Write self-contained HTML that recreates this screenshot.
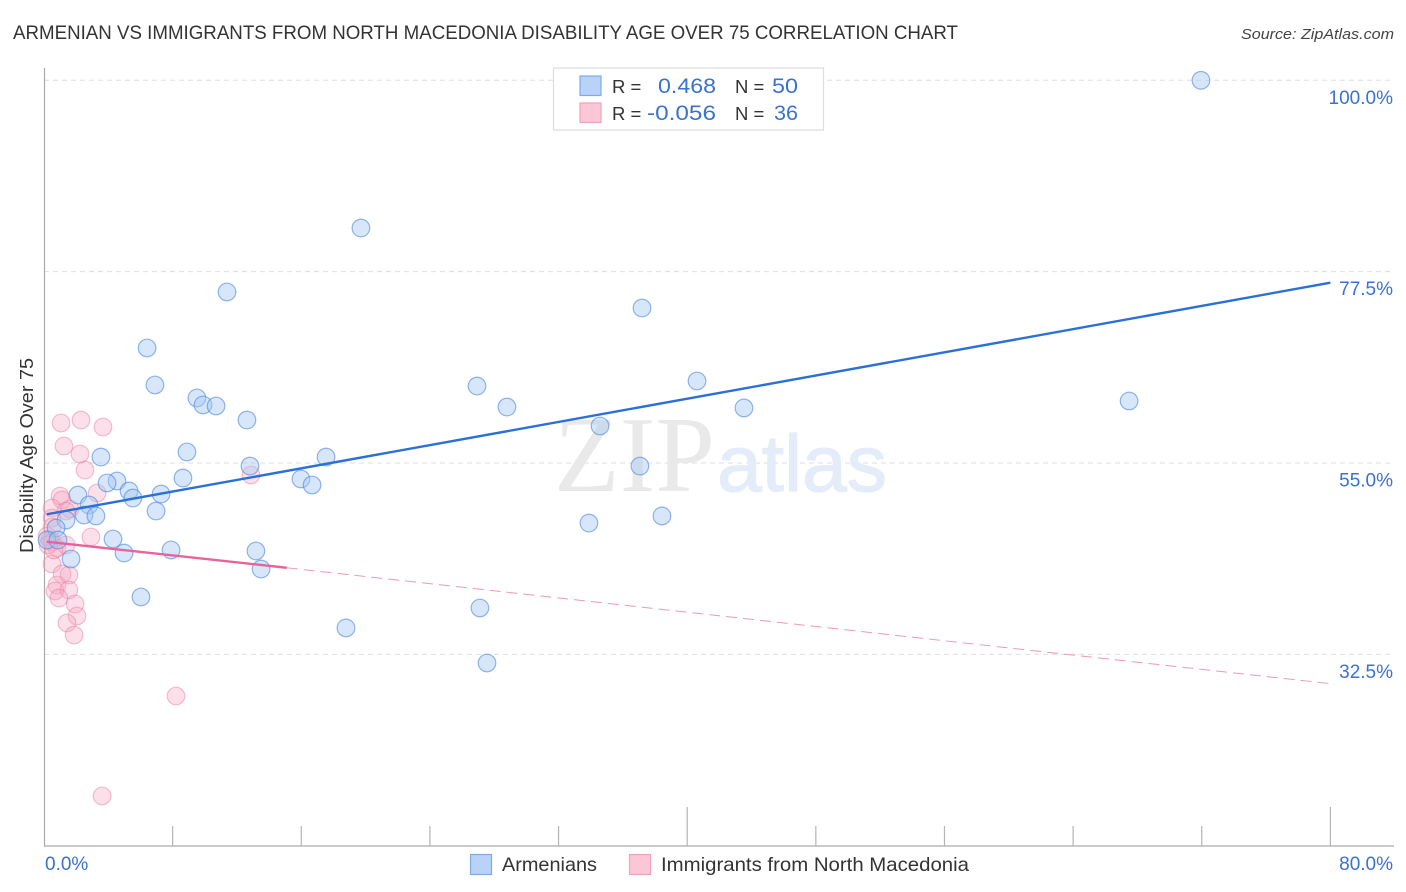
<!DOCTYPE html>
<html lang="en">
<head>
<meta charset="utf-8">
<title>Armenian vs Immigrants from North Macedonia Disability Age Over 75 Correlation Chart</title>
<style>
html,body{margin:0;padding:0;background:#fff;width:1406px;height:892px;overflow:hidden}
svg{display:block;font-family:"Liberation Sans",sans-serif}
</style>
</head>
<body>
<svg id="chart" xmlns="http://www.w3.org/2000/svg" width="1406" height="892" viewBox="0 0 1406 892">
  <text x="13" y="39" font-size="19" fill="#333" textLength="945" lengthAdjust="spacingAndGlyphs">ARMENIAN VS IMMIGRANTS FROM NORTH MACEDONIA DISABILITY AGE OVER 75 CORRELATION CHART</text>
  <text x="1241" y="39" font-size="15" font-style="italic" fill="#444" textLength="153" lengthAdjust="spacingAndGlyphs">Source: ZipAtlas.com</text>

  <g id="grid"></g>

  <g>
    <text x="554" y="491" font-family="'Liberation Serif',serif" font-size="108" fill="#e9e9e9" textLength="161" lengthAdjust="spacingAndGlyphs">ZIP</text>
    <text x="717" y="491" font-size="80" fill="#e4ecf9" stroke="#e4ecf9" stroke-width="1.2" textLength="170" lengthAdjust="spacingAndGlyphs">atlas</text>
  </g>

  <g id="axes">
    <line x1="44.5" y1="68" x2="44.5" y2="846" stroke="#aaa" stroke-width="1.2"/>
    <line x1="44" y1="846" x2="1394" y2="846" stroke="#aaa" stroke-width="1.2"/>
  </g>
  <g id="ticks"></g>
  <g id="pink-points"></g>
  <g id="blue-points"></g>
  <g id="trends"></g>
  <g id="labels"></g>

  <text transform="translate(33,553) rotate(-90)" font-size="18" fill="#333" textLength="195" lengthAdjust="spacingAndGlyphs">Disability Age Over 75</text>

  <g>
    <rect x="553.5" y="68" width="270" height="62" fill="#fff" stroke="#ddd" stroke-width="1.2"/>
    <rect x="580" y="76" width="21" height="19.5" fill="#b8d3f7" stroke="#7eaae8" stroke-width="1.2"/>
    <rect x="580" y="103" width="21" height="19.5" fill="#fcc6d6" stroke="#f0a3bb" stroke-width="1.2"/>
    <text x="612" y="93" font-size="18.5" fill="#333">R =</text>
    <text x="716" y="93" font-size="21" fill="#3a72d0" text-anchor="end" textLength="58" lengthAdjust="spacingAndGlyphs">0.468</text>
    <text x="735" y="93" font-size="18.5" fill="#333">N =</text>
    <text x="798" y="93" font-size="21" fill="#3a72d0" text-anchor="end" textLength="26" lengthAdjust="spacingAndGlyphs">50</text>
    <text x="612" y="120" font-size="18.5" fill="#333">R =</text>
    <text x="716" y="120" font-size="21" fill="#3a72d0" text-anchor="end" textLength="69" lengthAdjust="spacingAndGlyphs">-0.056</text>
    <text x="735" y="120" font-size="18.5" fill="#333">N =</text>
    <text x="798" y="120" font-size="21" fill="#3a72d0" text-anchor="end" textLength="24" lengthAdjust="spacingAndGlyphs">36</text>
  </g>

  <g>
    <rect x="470.5" y="854.5" width="21" height="20" fill="#b8d3f7" stroke="#7eaae8" stroke-width="1.2"/>
    <text x="502" y="871" font-size="19.5" fill="#333" textLength="95" lengthAdjust="spacingAndGlyphs">Armenians</text>
    <rect x="629.5" y="854.5" width="21" height="20" fill="#fcc6d6" stroke="#f0a3bb" stroke-width="1.2"/>
    <text x="661" y="871" font-size="19.5" fill="#333" textLength="308" lengthAdjust="spacingAndGlyphs">Immigrants from North Macedonia</text>
  </g>
</svg>
<script>
const yTicks = [100, 77.5, 55, 32.5];
const yTickLabels = ["100.0%", "77.5%", "55.0%", "32.5%"];
const xTicks = [8, 16, 24, 32, 40, 48, 56, 64, 72, 80];
const xMajorTicks = [40, 80];
const xTickLabels = ["0.0%", "80.0%"];

const armenianX = [71.95,19.71,11.38,37.19,6.41,6.90,26.93,40.61,9.51,9.89,10.70,28.79,43.53,67.48,12.62,34.58,8.89,3.54,17.54,4.54,3.92,8.64,12.81,37.06,15.98,16.67,5.29,2.11,5.53,7.28,6.97,2.80,2.49,3.23,38.43,1.37,0.75,33.89,0.19,0.87,4.29,4.98,7.90,13.18,1.68,13.50,6.03,27.11,18.78,27.55];
const armenianY = [100.0,82.63,75.11,73.22,68.52,64.17,64.05,64.64,62.64,61.82,61.70,61.58,61.47,62.29,60.05,59.35,56.29,55.70,55.70,52.88,52.65,53.23,54.64,54.64,53.12,52.41,51.71,51.23,50.88,51.35,49.35,50.06,48.88,48.77,48.77,48.29,47.35,47.94,45.94,45.94,46.06,44.41,44.77,44.65,43.71,42.53,39.24,37.95,35.60,31.48];

const macedoniaX = [1.06,2.30,3.67,1.24,2.24,2.55,12.87,3.30,1.00,1.12,0.50,1.62,1.37,0.50,0.50,2.92,0.19,0.37,0.50,0.81,1.37,0.50,1.12,1.55,0.81,0.68,1.55,0.93,1.93,2.05,1.43,1.87,8.21,3.61,0.25,0.62];
const macedoniaY = [59.70,60.05,59.23,57.00,56.06,54.17,53.59,51.47,51.12,50.65,49.71,49.59,49.35,48.53,47.47,46.30,46.41,45.94,45.71,45.00,45.36,43.12,41.95,41.83,40.65,39.95,40.06,39.12,38.42,37.01,36.18,34.77,27.60,15.84,45.36,44.77];

const armenianTrendX = [0.17, 80];
const armenianTrendY = [48.97, 76.2];
const macedoniaTrendX = [0.17, 15.1, 80];
const macedoniaTrendY = [45.74, 42.68, 29.05];

const NS = "http://www.w3.org/2000/svg";
function xScale(v) { return 44 + v * 16.08; }
function yScale(v) { return 80.3 + (100 - v) * 8.504; }
function make(tag, attrs, parent) {
  const el = document.createElementNS(NS, tag);
  for (const k in attrs) el.setAttribute(k, attrs[k]);
  document.getElementById(parent).appendChild(el);
  return el;
}

yTicks.forEach(function (t, i) {
  const line = make("line", {x1: 44, x2: 1394, y1: yScale(t), y2: yScale(t), stroke: "#dedede", "stroke-width": 1, "stroke-dasharray": "5 4"}, "grid");
  
  
  const label = make("text", {x: 1393, y: yScale(t) + 23.5, "font-size": 19, fill: "#3a72d0", "text-anchor": "end"}, "labels");
  label.textContent = yTickLabels[i];
  
  
});

xTicks.forEach(function (t) {
  const top = xMajorTicks.indexOf(t) >= 0 ? 807 : 826;
  const tick = make("line", {x1: xScale(t), x2: xScale(t), y1: top, y2: 846, stroke: "#b4b4b4", "stroke-width": 1.2}, "ticks");
  
  
});

const xLabelFirst = make("text", {x: 45, y: 870, "font-size": 19, fill: "#3a72d0"}, "labels");
xLabelFirst.textContent = xTickLabels[0];


const xLabelLast = make("text", {x: 1393, y: 870, "font-size": 19, fill: "#3a72d0", "text-anchor": "end"}, "labels");
xLabelLast.textContent = xTickLabels[1];



macedoniaX.forEach(function (x, i) {
  const dot = make("circle", {cx: xScale(x), cy: yScale(macedoniaY[i]), r: 8.8, fill: "#f8a9c2", "fill-opacity": 0.36, stroke: "#ee7fa2", "stroke-opacity": 0.5, "stroke-width": 1.2}, "pink-points");
  
  
});
armenianX.forEach(function (x, i) {
  const dot = make("circle", {cx: xScale(x), cy: yScale(armenianY[i]), r: 8.8, fill: "#a6c8f2", "fill-opacity": 0.45, stroke: "#4f8ade", "stroke-opacity": 0.62, "stroke-width": 1.2}, "blue-points");
  
  
});

const blueTrend = make("line", {x1: xScale(armenianTrendX[0]), y1: yScale(armenianTrendY[0]), x2: xScale(armenianTrendX[1]), y2: yScale(armenianTrendY[1]), stroke: "#2a70d8", "stroke-width": 2.4}, "trends");


const pinkSolid = make("line", {x1: xScale(macedoniaTrendX[0]), y1: yScale(macedoniaTrendY[0]), x2: xScale(macedoniaTrendX[1]), y2: yScale(macedoniaTrendY[1]), stroke: "#e8639a", "stroke-width": 2.4}, "trends");


const pinkDash = make("line", {x1: xScale(macedoniaTrendX[1]), y1: yScale(macedoniaTrendY[1]), x2: xScale(macedoniaTrendX[2]), y2: yScale(macedoniaTrendY[2]), stroke: "#eb9ab2", "stroke-width": 1, "stroke-dasharray": "11 6"}, "trends");


</script>
</body>
</html>
